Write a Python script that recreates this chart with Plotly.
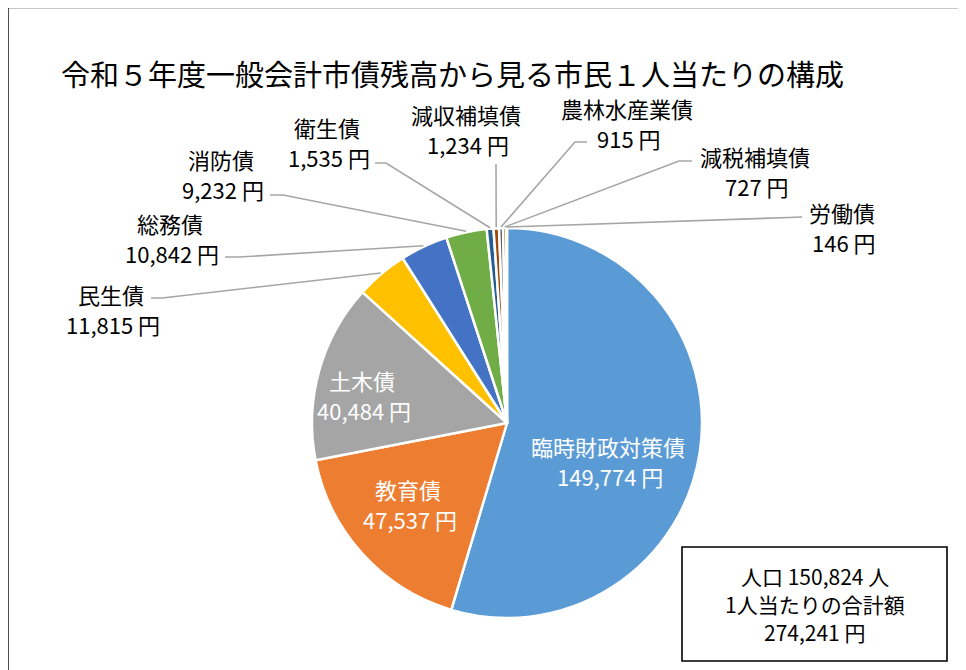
import math
import plotly.graph_objects as go

# ---- data ----
categories = ["臨時財政対策債", "教育債", "土木債", "民生債", "総務債", "消防債",
              "衛生債", "減収補填債", "農林水産業債", "減税補填債", "労働債"]
values = [149774, 47537, 40484, 11815, 10842, 9232, 1535, 1234, 915, 727, 146]
colors = ["#5B9BD5", "#ED7D31", "#A5A5A5", "#FFC000", "#4472C4", "#70AD47",
          "#255E91", "#9E480E", "#636363", "#997300", "#264478"]
population = 150824
title_text = "令和５年度一般会計市債残高から見る市民１人当たりの構成"

# ---- layout constants (pixels, in the screenshot frame) ----
W, H = 966, 670
OFF = 9  # page offset of the plot div
CX, CY, R = 508, 424, 195
FONT = "Noto Sans CJK JP, Noto Sans, sans-serif"
LINE_GAP = 30

# label position (x centre, y of the name line) for each category
label_pos = {
    "臨時財政対策債": (609, 447), "教育債": (409, 490), "土木債": (363, 381),
    "民生債": (112, 295), "総務債": (171, 224), "消防債": (222, 160),
    "衛生債": (328, 128), "減収補填債": (467, 115), "農林水産業債": (628, 109),
    "減税補填債": (756, 157), "労働債": (843, 213),
}
inside = {"臨時財政対策債", "教育債", "土木債"}
# leader line: (elbow, end) in px
leader = {
    "民生債": ((163, 299), (152, 299)),
    "総務債": ((240, 258), (226, 258)),
    "消防債": ((284, 196), (271, 196)),
    "衛生債": ((387, 164), (376, 164)),
    "減収補填債": ((497, 166), (497, 165)),
    "農林水産業債": ((576, 143), (588, 143)),
    "減税補填債": ((680, 162), (693, 162)),
    "労働債": ((790, 218.5), (803, 218)),
}


def X(px):
    return (px - OFF) / W


def Y(py):
    return 1 - (py - OFF) / H


fig = go.Figure()
fig.add_trace(go.Pie(
    labels=categories, values=values, sort=False, direction="clockwise",
    rotation=0, textinfo="none", hoverinfo="label+value",
    marker=dict(colors=colors, line=dict(color="white", width=2.5)),
    domain=dict(x=[X(CX - R), X(CX + R)], y=[Y(CY + R), Y(CY - R)]),
    showlegend=False,
))

annotations = []
shapes = []

# outer frame
shapes.append(dict(type="rect", xref="paper", yref="paper",
                   x0=X(9), x1=X(W + 40), y0=Y(H + 40), y1=Y(8.5),
                   line=dict(color="#222", width=1.6)))

# title
annotations.append(dict(text=title_text, x=X(61), y=Y(74), xref="paper", yref="paper",
                        xanchor="left", yanchor="middle", showarrow=False, borderpad=0,
                        font=dict(family=FONT, size=29, color="#000")))


def add_text(txt, px, py, col, size=22):
    annotations.append(dict(text=txt, x=X(px), y=Y(py), xref="paper", yref="paper",
                            xanchor="center", yanchor="middle", showarrow=False,
                            borderpad=0,
                            font=dict(family=FONT, size=size, color=col)))


total = sum(values)
cum = 0
for cat, v in zip(categories, values):
    mid = (cum + v / 2) / total * 360
    cum += v
    lx, ly = label_pos[cat]
    col = "white" if cat in inside else "#000"
    add_text(cat, lx, ly, col)
    add_text(f"{v:,} 円", lx + 2, ly + LINE_GAP, col)
    if cat in leader:
        (ex, ey), (tx, ty) = leader[cat]
        sx = CX + (R + 1) * math.sin(math.radians(mid))
        sy = CY - (R + 1) * math.cos(math.radians(mid))
        path = f"M {X(sx)} {Y(sy)} L {X(ex)} {Y(ey)} L {X(tx)} {Y(ty)}"
        shapes.append(dict(type="path", xref="paper", yref="paper", path=path,
                           line=dict(color="#A6A6A6", width=1.6)))

# summary box
shapes.append(dict(type="rect", xref="paper", yref="paper",
                   x0=X(683), x1=X(948), y0=Y(662), y1=Y(548),
                   line=dict(color="#000", width=1.6), fillcolor="white"))
add_text(f"人口 {population:,} 人", 815.5, 577, "#000", 21)
add_text("1人当たりの合計額", 815.5, 605, "#000", 21)
add_text(f"{total:,} 円", 815.5, 633, "#000", 21)

fig.update_layout(width=W, height=H, margin=dict(l=0, r=0, t=0, b=0),
                  paper_bgcolor="white", plot_bgcolor="white",
                  annotations=annotations, shapes=shapes)

fig.write_html("out.html")
